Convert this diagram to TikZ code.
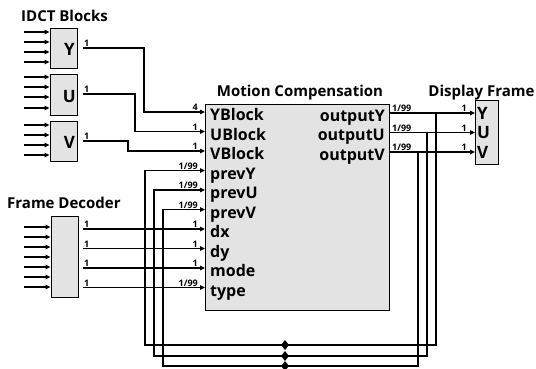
\documentclass[tikz,border=0pt]{standalone}
\usepackage{fontspec}
\setmainfont{Open Sans}
\usetikzlibrary{arrows.meta,shapes.geometric}
\begin{document}
\begin{tikzpicture}[x=1pt,y=-1pt,
  box/.style={draw=black,line width=1pt,fill=gray!22,inner sep=0pt},
  conn/.style={line width=1.5pt,-{Triangle[length=5pt,width=4.5pt]}},
  wire/.style={line width=1.5pt},
  title/.style={font=\fontsize{15}{15}\selectfont\bfseries,inner sep=0pt},
  port/.style={font=\fontsize{16}{16}\selectfont\bfseries,inner sep=0pt},
  rate/.style={font=\fontsize{9}{9}\selectfont\bfseries,inner sep=1pt},
  big/.style={font=\fontsize{17}{17}\selectfont\bfseries,inner sep=0pt},
  junc/.style={diamond,fill=black,inner sep=0pt,minimum width=8pt,minimum height=10pt}
]
\useasboundingbox (0,0) rectangle (536,368);

% titles
\node[title,anchor=base west] (tidct) at (21,21) {IDCT Blocks};
\node[title,anchor=base west] (tfd) at (7,208) {Frame Decoder};
\node[title,anchor=base] (tmc) at (300,96) {Motion Compensation};
\node[title,anchor=base] (tdf) at (481.5,96) {Display Frame};

% boxes
\node[box,minimum width=27pt,minimum height=40pt] (yb) at (63.5,48) {};
\node[box,minimum width=27pt,minimum height=41pt] (ub) at (63.5,94.5) {};
\node[box,minimum width=27pt,minimum height=40pt] (vb) at (63.5,141) {};
\node[box,minimum width=27pt,minimum height=81pt] (fd) at (64.5,256.5) {};
\node[box,minimum width=184pt,minimum height=206pt] (mc) at (297,207) {};
\node[box,minimum width=23pt,minimum height=64pt] (df) at (486.5,132) {};

\node[big,anchor=base east] (yl) at (75,55) {Y};
\node[big,anchor=base east] (ul) at (76,102) {U};
\node[big,anchor=base east] (vl) at (75,148) {V};

% inputs to IDCT blocks
\foreach \y [count=\i] in {32,42,52,62}{
  \coordinate (yin\i) at (24,\y);
  \draw[conn] (yin\i) -- (yin\i -| yb.west);}
\foreach \y [count=\i] in {77,87,97,108}{
  \coordinate (uin\i) at (24,\y);
  \draw[conn] (uin\i) -- (uin\i -| ub.west);}
\foreach \y [count=\i] in {125,135,145,155}{
  \coordinate (vin\i) at (24,\y);
  \draw[conn] (vin\i) -- (vin\i -| vb.west);}
\foreach \y [count=\i] in {227,237,247,257,267,277,287}{
  \coordinate (fin\i) at (24,\y);
  \draw[conn] (fin\i) -- (fin\i -| fd.west);}

% MC ports
\foreach \n/\t/\y in {pYB/YBlock/112,pUB/UBlock/131.5,pVB/VBlock/151,pPY/prevY/170.5,pPU/prevU/190,pPV/prevV/209.5,pdx/dx/229,pdy/dy/248.5,pmode/mode/268,ptype/type/287.5}{
  \coordinate (\n) at (205,\y);
  \node[port,anchor=base west] (\n-l) at (210,\y+8.5) {\t};}
\foreach \n/\t/\y in {oY/outputY/113,oU/outputU/132.5,oV/outputV/152}{
  \coordinate (\n) at (389,\y);
  \node[port,anchor=base east] (\n-l) at (385,\y+8) {\t};}
\foreach \n/\t/\y in {dY/Y/113,dU/U/132.5,dV/V/152}{
  \coordinate (\n) at (475,\y);
  \node[big,anchor=base west] (\n-l) at (477,\y+6) {\t};}

% IDCT outputs
\coordinate (yo) at (83,48);
\coordinate (uo) at (83,94);
\coordinate (vo) at (83,141);
\draw[conn] (yo) -- ++(61,0) |- (pYB);
\draw[conn] (uo) -- ++(52,0) |- (pUB);
\draw[conn] (vo) -- ++(45,0) |- (pVB);
\node[rate,anchor=south west] at (yo) {1};
\node[rate,anchor=south west] at (uo) {1};
\node[rate,anchor=south west] at (vo) {1};
\node[rate,anchor=south east] at ([xshift=-6pt]pYB) {4};
\node[rate,anchor=south east] at ([xshift=-6pt]pUB) {1};
\node[rate,anchor=south east] at ([xshift=-6pt]pVB) {1};

% Frame decoder outputs
\foreach \p/\y/\r [count=\i] in {pdx/229/1,pdy/248.5/1,pmode/268/1,ptype/287.5/1\slash 99}{
  \coordinate (fo\i) at (83,\y);
  \draw[conn] (fo\i) -- (\p);
  \node[rate,anchor=south west] at (fo\i) {1};
  \node[rate,anchor=south east] at ([xshift=-6pt]\p) {\r};}

% MC outputs to display
\foreach \a/\b in {oY/dY,oU/dU,oV/dV}{
  \draw[conn] (\a) -- (\b);
  \node[rate,anchor=south west] at ([xshift=2pt]\a) {1/99};
  \node[rate,anchor=south east] at ([xshift=-7pt]\b) {1};}

% feedback
\coordinate (fbY) at (436,113);
\coordinate (fbU) at (427,132.5);
\coordinate (fbV) at (418,152);
\coordinate (bY) at (145,345);
\coordinate (bU) at (154,356);
\coordinate (bV) at (163,366);
\draw[conn] (fbY) |- (bY) |- (pPY);
\draw[conn] (fbU) |- (bU) |- (pPU);
\draw[conn] (fbV) |- (bV) |- (pPV);
\node[rate,anchor=south east] at ([xshift=-6pt]pPY) {1/99};
\node[rate,anchor=south east] at ([xshift=-6pt]pPU) {1/99};
\node[rate,anchor=south east] at ([xshift=-6pt]pPV) {1/99};
\node[junc] (jY) at (285,345) {};
\node[junc] (jU) at (285,356) {};
\node[junc] (jV) at (285,366) {};
\end{tikzpicture}
\end{document}
